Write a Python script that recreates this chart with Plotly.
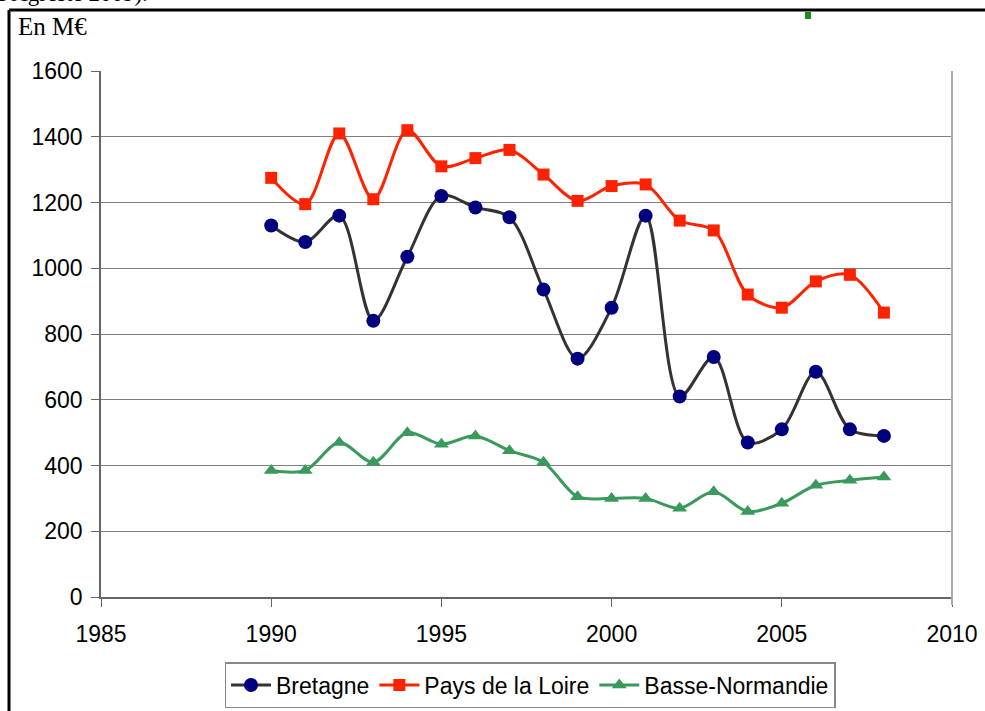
import plotly.graph_objects as go

years = list(range(1990, 2009))
bretagne = [1130, 1080, 1160, 840, 1035, 1220, 1185, 1155, 935, 725, 880, 1160, 610, 730, 470, 510, 685, 510, 490]
pays_loire = [1275, 1195, 1410, 1210, 1420, 1310, 1335, 1360, 1285, 1205, 1250, 1255, 1145, 1115, 920, 880, 960, 980, 865]
basse_normandie = [385, 385, 470, 410, 500, 465, 490, 445, 410, 305, 300, 300, 270, 320, 260, 285, 340, 355, 365]

x_ticks = [1985, 1990, 1995, 2000, 2005, 2010]
y_ticks = [0, 200, 400, 600, 800, 1000, 1200, 1400, 1600]

FONT = "Liberation Sans, Arial, Helvetica, sans-serif"
SERIF = "Liberation Serif, Times New Roman, serif"

fig = go.Figure()
fig.add_trace(go.Scatter(x=years, y=bretagne, name="Bretagne", mode="lines+markers",
                         line=dict(color="#333333", width=3, shape="spline", smoothing=0.9),
                         marker=dict(symbol="circle", size=14, color="#00007f")))
fig.add_trace(go.Scatter(x=years, y=pays_loire, name="Pays de la Loire", mode="lines+markers",
                         line=dict(color="#ff2200", width=3, shape="spline", smoothing=0.9),
                         marker=dict(symbol="square", size=12, color="#ff2200")))
fig.add_trace(go.Scatter(x=years, y=basse_normandie, name="Basse-Normandie", mode="lines+markers",
                         line=dict(color="#3a9a5c", width=3, shape="spline", smoothing=0.9),
                         marker=dict(symbol="triangle-up", size=13, color="#3a9a5c")))

WW, HH = 985, 711
L, R, T, B = 101, 952, 71, 597
W, H = R - L, B - T

def px(xp):
    return (xp - L) / W

def py(yp):
    return (B - yp) / H

fig.update_layout(
    width=WW, height=HH,
    margin=dict(l=L, r=WW - R, t=T, b=HH - B, autoexpand=False),
    paper_bgcolor="white", plot_bgcolor="white",
    font=dict(family=FONT, size=23, color="black"),
    xaxis=dict(range=[1985, 2010], tickvals=x_ticks, showgrid=False, zeroline=False,
               showline=True, linecolor="#666666", linewidth=1.5, automargin=False,
               ticks="outside", ticklen=8, tickcolor="#666666", tickfont=dict(size=23),
               ticklabelstandoff=8),
    yaxis=dict(range=[0, 1600], tickvals=y_ticks, showgrid=True, gridcolor="#808080", gridwidth=1.2,
               zeroline=False, showline=True, linecolor="#666666", linewidth=1.5, automargin=False,
               ticks="outside", ticklen=8, tickcolor="#666666", tickfont=dict(size=23),
               ticklabelstandoff=4),
    showlegend=True,
    legend=dict(orientation="h", x=px(530), xanchor="center", y=py(662), yanchor="top",
                bordercolor="#888888", borderwidth=1.5, font=dict(size=23),
                itemwidth=40, tracegroupgap=0),
    shapes=[
        dict(type="line", xref="paper", yref="paper", x0=1, x1=1, y0=py(605), y1=1,
             line=dict(color="#aaaaaa", width=2)),
        dict(type="line", xref="paper", yref="paper", x0=px(9), x1=px(9), y0=py(10), y1=py(720),
             line=dict(color="black", width=3)),
        dict(type="line", xref="paper", yref="paper", x0=px(9), x1=px(990), y0=py(10), y1=py(10),
             line=dict(color="black", width=3)),
        dict(type="rect", xref="paper", yref="paper", x0=px(805), x1=px(811), y0=py(19), y1=py(12),
             fillcolor="#1a8a1a", line=dict(width=0)),
    ],
    annotations=[
        dict(text="En M€", xref="paper", yref="paper", x=px(16), y=py(26), xanchor="left", yanchor="middle",
             showarrow=False, font=dict(family=SERIF, size=25)),
        dict(text="(source Agreste 2009).", xref="paper", yref="paper", x=px(150), y=py(8),
             xanchor="right", yanchor="bottom", showarrow=False,
             font=dict(family=SERIF, size=23)),
    ],
)

fig.write_html("out.html", config={"displayModeBar": False},
               post_script="document.body.style.margin='0';document.body.style.overflow='hidden';")
